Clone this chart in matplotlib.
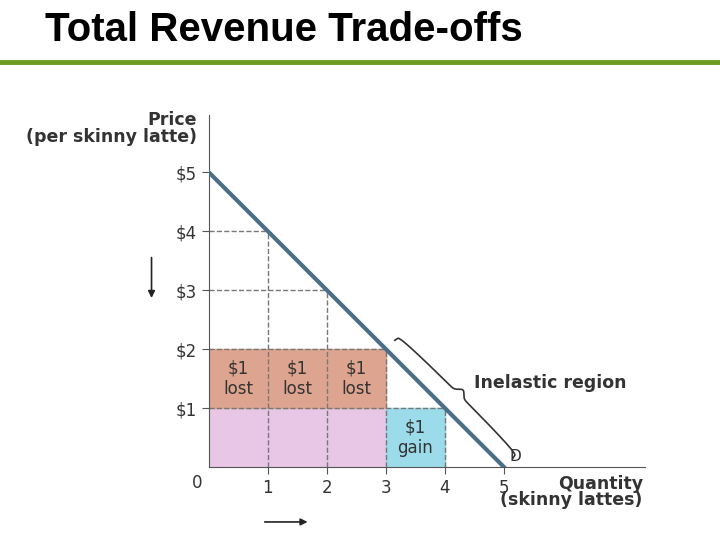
import numpy as np
import matplotlib.pyplot as plt
from matplotlib.patches import Rectangle

# demand curve points
qty = [0, 1, 2, 3, 4, 5]
price = [5, 4, 3, 2, 1, 0]
xticks = [1, 2, 3, 4, 5]
yticks = [1, 2, 3, 4, 5]
ylabels = ['$1', '$2', '$3', '$4', '$5']
lost_q = [0, 1, 2]   # each $1 lost box
gain_q = [3]

fig = plt.figure(figsize=(7.2, 5.4), dpi=100)
fig.text(0.063, 0.945, 'Total Revenue Trade-offs', fontsize=29, fontweight='bold',
         family='Liberation Sans', va='center')
fig.add_artist(plt.Line2D([0, 1], [0.886, 0.886], color='#6a9a1f', lw=3.5))

ax = fig.add_axes([0.290, 0.135, 0.606, 0.652])
ax.set_xlim(0, 7.39)
ax.set_ylim(0, 5.97)
for s in ['top', 'right']:
    ax.spines[s].set_visible(False)
ax.spines['left'].set_color('#555555')
ax.spines['bottom'].set_color('#555555')

# revenue rectangles
ax.add_patch(Rectangle((0, 0), 3, 1, color='#e8c6e6', zorder=1))
for q in lost_q:
    ax.add_patch(Rectangle((q, 1), 1, 1, color='#dda48f', zorder=1))
    ax.text(q + 0.5, 1.5, '$1\nlost', ha='center', va='center', fontsize=12, color='#333333')
for q in gain_q:
    ax.add_patch(Rectangle((q, 0), 1, 1, color='#9bdbea', zorder=1))
    ax.text(q + 0.5, 0.5, '$1\ngain', ha='center', va='center', fontsize=12, color='#333333')

# dashed guide lines
for q, p in zip(qty[1:5], price[1:5]):
    ax.plot([0, q], [p, p], ls='--', color='#777777', lw=1, zorder=2)
    ax.plot([q, q], [0, p], ls='--', color='#777777', lw=1, zorder=2)

ax.plot(qty, price, color='#4b6f86', lw=3, zorder=3)
ax.text(5.1, 0.1, 'D', fontsize=11, color='#333333')

# brace for inelastic region
t = np.linspace(0, 1, 200)
bx0, by0, bx1, by1 = 3.15, 2.15, 5.15, 0.15
nx, ny = 1 / np.sqrt(2), 1 / np.sqrt(2)
bump = 0.12 * (np.abs(np.sin(np.pi * t)) ** 0.15) + 0.1 * np.exp(-((t - 0.5) / 0.03) ** 2)
ax.plot(bx0 + (bx1 - bx0) * t + nx * bump, by0 + (by1 - by0) * t + ny * bump,
        color='#333333', lw=1.2, zorder=3)
ax.text(4.5, 1.42, 'Inelastic region', fontsize=12.5, fontweight='bold', color='#333333',
        va='center')

ax.set_xticks(xticks)
ax.set_xticklabels([str(x) for x in xticks], fontsize=12, color='#333333')
ax.set_yticks(yticks)
ax.set_yticklabels(ylabels, fontsize=12, color='#333333')
ax.tick_params(length=5, color='#555555')
ax.text(-0.2, -0.27, '0', fontsize=12, color='#333333', ha='center', va='center')
ax.text(-0.2, 5.88, 'Price', fontsize=12.5, fontweight='bold', color='#333333', ha='right', va='center')
ax.text(-0.2, 5.6, '(per skinny latte)', fontsize=12.5, fontweight='bold', color='#333333', ha='right', va='center')
ax.text(7.35, -0.28, 'Quantity', fontsize=12.5, fontweight='bold', color='#333333', ha='right', va='center')
ax.text(7.35, -0.56, '(skinny lattes)', fontsize=12.5, fontweight='bold', color='#333333', ha='right', va='center')

ax.annotate('', xy=(-0.97, 2.82), xytext=(-0.97, 3.6), annotation_clip=False,
            arrowprops=dict(arrowstyle='-|>', color='#222222', lw=1.2, mutation_scale=10))
ax.annotate('', xy=(1.72, -0.93), xytext=(0.9, -0.93), annotation_clip=False,
            arrowprops=dict(arrowstyle='-|>', color='#222222', lw=1.2, mutation_scale=10))

fig.savefig('out.png', dpi=100)
